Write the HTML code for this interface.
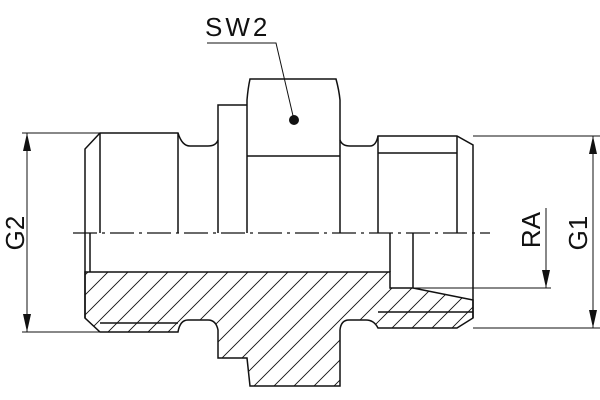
<!DOCTYPE html>
<html><head><style>html,body{margin:0;padding:0;background:#fff}svg{display:block}</style></head>
<body>
<svg width="600" height="400" viewBox="0 0 600 400" xmlns="http://www.w3.org/2000/svg">
<defs>
<pattern id="h" patternUnits="userSpaceOnUse" width="20" height="20">
<path d="M-5,25 L25,-5 M-5,5 L5,-5 M15,25 L25,15" stroke="#111" stroke-width="0.9"/>
</pattern>
</defs>
<g fill="none" stroke="#111" stroke-width="1.5">
<path fill="url(#h)" d="M85,272 L390,272 L390,288 L413,288 L473,300 L473,318 L457,328 L378,328 Q374,320 366,320 L349,320 Q341,320 340,330 L340,386 L250,386 L247,358 L218,358 L218,330 Q216,320 208,320 L188,320 Q180,320 178,332 L100,332 L85,318 Z"/>
<path d="M85,318 L85,149 L100,133 L178,133 Q182,146 190,146 L208,146 Q216,146 218,140"/>
<path d="M100,133 L100,233 M178,133 L178,233 M100,323 L178,323"/>
<path d="M90,233 L90,272"/>
<path d="M218,233 L218,105 L247,105"/>
<path d="M247,233 L247,100 Q248,88 250,79 L336,79 Q339,90 340,100 L340,233"/>
<path d="M247,156 L340,156"/>
<path d="M340,140 Q342,146 350,146 L370,146 Q376,146 378,136 L457,136 L473,145 L473,318"/>
<path d="M378,136 L378,233 M457,136 L457,233 M378,153 L457,153 M378,312 L473,312"/>
<path d="M390,233 L390,272 M413,233 L413,288"/>
</g>
<path d="M73,233 L490,233" stroke="#111" stroke-width="1.2" stroke-dasharray="24,5,3,5"/>
<g stroke="#111" stroke-width="1" fill="none">
<path d="M22,133 L100,133 M22,332 L100,332 M27,133 L27,332"/>
<path d="M473,136 L600,136 M473,328 L600,328 M593,136 L593,328"/>
<path d="M413,288 L551,288 M546,208 L546,288"/>
<path d="M207,43 L276,43 L294,120"/>
</g>
<g fill="#111">
<path d="M27,133 L23,151 L31,151 Z M27,332 L23,314 L31,314 Z"/>
<path d="M593,136 L589,154 L597,154 Z M593,328 L589,310 L597,310 Z"/>
<path d="M546,288 L542,270 L550,270 Z"/>
<circle cx="294" cy="120" r="5"/>
</g>
<g font-family="Liberation Sans, sans-serif" font-size="26" fill="#111">
<text x="205" y="36" letter-spacing="3">SW2</text>
<text transform="translate(24,233) rotate(-90)" text-anchor="middle">G2</text>
<text transform="translate(587,233) rotate(-90)" text-anchor="middle">G1</text>
<text transform="translate(540,230) rotate(-90)" text-anchor="middle">RA</text>
</g>
</svg>
</body></html>
